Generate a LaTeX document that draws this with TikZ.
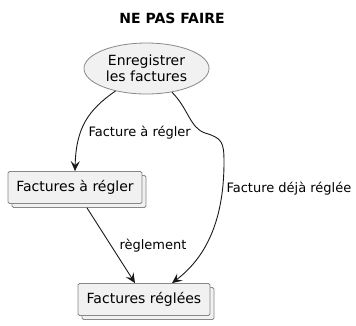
\documentclass[tikz,border=0pt]{standalone}
\usepackage{fontspec}
\setmainfont{DejaVu Sans}
\usetikzlibrary{arrows.meta,shapes.geometric,shadows,calc}
\definecolor{boxfill}{HTML}{F1F1F1}
\definecolor{boxline}{HTML}{888888}
\definecolor{arrline}{HTML}{181818}
\begin{document}
\begin{tikzpicture}[x=1pt, y=-1pt,
    etat/.style={draw=boxline, fill=boxfill, line width=0.8pt, rounded corners=1.5pt,
        minimum height=32pt, font=\fontsize{14}{16}\selectfont,
        copy shadow={shadow xshift=4pt, shadow yshift=-4pt, draw=boxline, fill=boxfill}},
    action/.style={ellipse, draw=boxline, fill=boxfill, line width=0.8pt, inner sep=0pt,
        minimum width=125pt, minimum height=51pt, align=center,
        font=\fontsize{14}{16}\selectfont},
    fleche/.style={-{Stealth[length=10pt, width=9pt, inset=4pt]}, draw=arrline, line width=0.9pt},
    etiq/.style={anchor=west, font=\fontsize{13}{15}\selectfont}]
    \useasboundingbox (0,0) rectangle (356,325);
    % titre
    \node [font=\fontsize{14}{16}\selectfont\bfseries] (titre) at (172,18) {NE PAS FAIRE};
    % action et deux etats
    \node [action] (enreg) at (146.5,68.5) {Enregistrer\\les factures};
    \node [etat, minimum width=134pt] (aregler) at (75,187.5) {Factures à régler};
    \node [etat, minimum width=132pt] (reglees) at (144,299.5) {Factures réglées};
    % transitions
    \draw [fleche] (enreg.216) .. controls (88,110) and (76,128) .. (aregler.north);
    \node [etiq] (l1) at (85,133) {Facture à régler};
    \draw [fleche] (enreg.-43) .. controls (188,108) and (190,128) .. (205,133)
        .. controls (222,138) and (224,142) .. (224,162)
        .. controls (224,222) and (205,258) .. ($(reglees.north)+(28,0)$);
    \node [etiq] (l2) at (223,189) {Facture déjà réglée};
    \draw [fleche] ($(aregler.south)+(12,4)$) -- ($(reglees.north)+(-9,0)$);
    \node [etiq] (l3) at (116,246) {règlement};
\end{tikzpicture}
\end{document}
